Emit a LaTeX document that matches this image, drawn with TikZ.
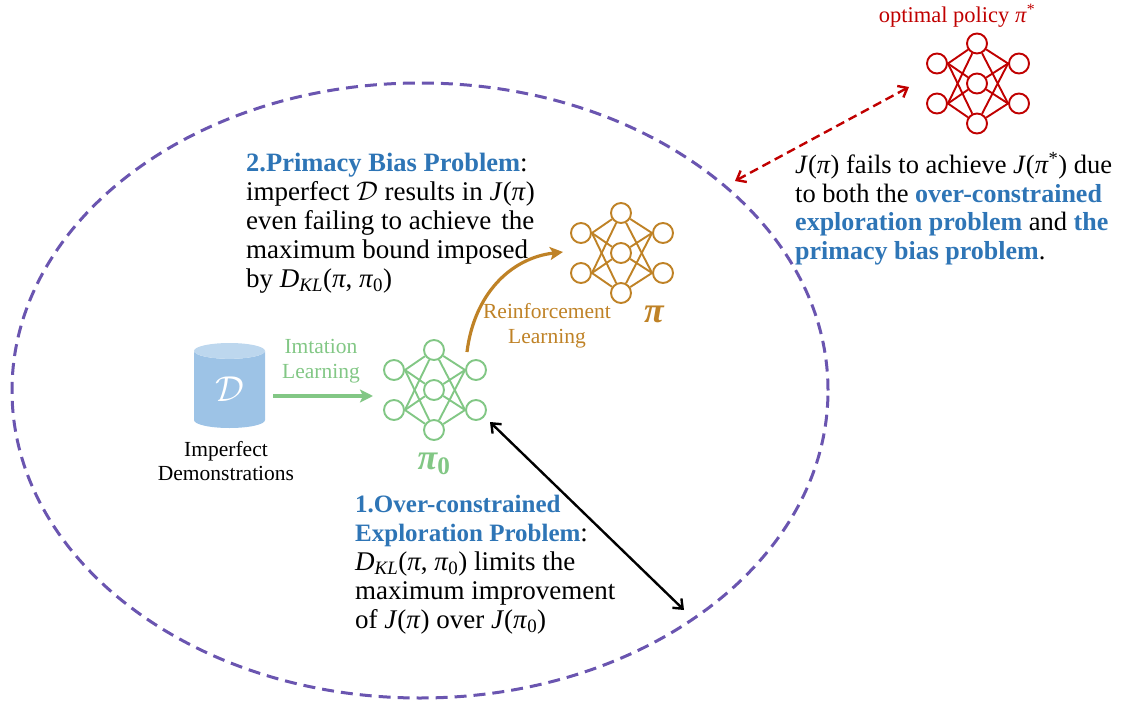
\documentclass[tikz,border=0pt]{standalone}
\usepackage{fix-cm}
\usepackage{fontspec}
\setmainfont{Liberation Serif}
\usetikzlibrary{shapes.geometric,arrows.meta}
\definecolor{nnred}{HTML}{C00000}
\definecolor{nnblue}{HTML}{2E75B6}
\definecolor{nngreen}{HTML}{82C785}
\definecolor{nnbrown}{HTML}{BF8226}
\definecolor{boundpurple}{HTML}{6A55B0}
\definecolor{databody}{HTML}{9DC3E6}
\definecolor{datatop}{HTML}{BDD7EE}
\newcommand{\probname}[2][26]{\textcolor{nnblue}{\fontsize{#1}{29}\selectfont\textbf{#2}}}
\newcommand{\mv}[1]{\textit{#1}}
\newcommand{\Dkl}{\mv{D}\textsubscript{\mv{KL}}(\mv{π}, \mv{π}\textsubscript{0})}
\tikzset{
    neuron/.style={draw, circle, minimum size=20pt, inner sep=0pt, line width=1.9pt},
    netpic/.pic={
        \foreach \n/\x/\y in {a/-40/-20, b/-40/20, c/0/-40, d/0/0, e/0/40, f/42/-20, g/42/20}
            \node[neuron] (-\n) at (\x,\y) {};
        \foreach \s in {a,b} \foreach \t in {c,d,e}
            \draw[line width=1.9pt] (-\s.east) -- (-\t);
        \foreach \t in {c,d,e} \foreach \s in {f,g}
            \draw[line width=1.9pt] (-\t) -- (-\s.west);
    },
    bodytext/.style={align=left, anchor=north west, inner sep=0pt, font=\fontsize{27}{29}\selectfont},
    smalltext/.style={align=center, inner sep=0pt, font=\fontsize{21.5}{24.5}\selectfont},
    polname/.style={inner sep=0pt, font=\fontsize{36}{36}\selectfont\bfseries\itshape},
}
\begin{document}
\begin{tikzpicture}[
        x=1pt, y=-1pt,
        learnarrow/.style={-{Stealth[length=13pt,width=13pt,inset=3pt]}, line width=3.2pt},
        comparearrow/.style={{Straight Barb[length=8pt,width=13pt]}-{Straight Barb[length=8pt,width=13pt]}, line width=2.4pt},
    ]
    \useasboundingbox (0,0) rectangle (1123,711);
    % outer bound
    \node[draw=boundpurple, ellipse, line width=3pt, dash pattern=on 12pt off 7pt, minimum width=816pt, minimum height=615pt, inner sep=0pt] (bound) at (420,390.5) {};
    % networks
    \pic[color=nngreen] (netzero) at (434,390) {netpic};
    \pic[color=nnbrown] (netpi) at (621,253) {netpic};
    \pic[color=nnred] (netopt) at (977,83.5) {netpic};
    % dataset
    \node[cylinder, anchor=shape center, shape border rotate=90, aspect=0.55, draw=none, cylinder uses custom fill, cylinder body fill=databody, cylinder end fill=datatop, minimum width=71pt, minimum height=85pt, inner sep=0pt, text=white, font=\fontsize{36}{36}\selectfont] (dataset) at (229.5,385.5) {$\mathcal{D}$};
    \node[smalltext] (datalabel) at (226,461) {Imperfect\\Demonstrations};
    % labels
    \node[smalltext, text=nngreen] (illabel) at (321,361) {Imtation\\Learning};
    \node[smalltext, text=nnbrown] (rllabel) at (547,325.5) {Reinforcement\\Learning};
    \node[polname, text=nngreen] (pizero) at (434,464) {π\textsubscript{\upshape 0}};
    \node[polname, text=nnbrown] (pione) at (654,314) {π};
    \node[inner sep=0pt, text=nnred, font=\fontsize{22.5}{22.5}\selectfont] (optlabel) at (957,16) {optimal policy \mv{π}\textsuperscript{*}};
    % problem texts
    \node[bodytext] (firstprob) at (355,495) {\probname[25]{1.Over-constrained}\\\probname[25]{Exploration Problem}:\\\Dkl{} limits the\\maximum improvement\\of \mv{J}(\mv{π}) over \mv{J}(\mv{π}\textsubscript{0})};
    \node[bodytext] (secondprob) at (246,152.5) {\probname[26.5]{2.Primacy Bias Problem}:\\imperfect $\mathcal{D}$ results in \mv{J}(\mv{π})\\even failing to achieve\hspace{.12em} the\\maximum bound imposed\\by \Dkl};
    \node[bodytext, font=\fontsize{26.5}{28.5}\selectfont] (fullprob) at (795,152) {\mv{J}(\mv{π}) fails to achieve \mv{J}(\mv{π}\textsuperscript{*}) due\\to both the \probname{over-constrained}\\\probname{exploration problem} and \probname{the}\\\probname{primacy bias problem}.};
    % free ends of the arrows
    \coordinate (ilstart) at (273,396);
    \coordinate (ilend) at (373,396);
    \coordinate (rlstart) at (467,352);
    \coordinate (rlend) at (563,252);
    \coordinate (gapstart) at (490,422);
    \coordinate (gapend) at (684,610);
    \coordinate (optstart) at (735,181);
    \coordinate (optend) at (909,87);
    \draw[learnarrow, nngreen] (ilstart) -- (ilend);
    \draw[learnarrow, nnbrown] (rlstart) .. controls (474,295) and (510,258) .. (rlend);
    \draw[comparearrow, black] (gapstart) -- (gapend);
    \draw[comparearrow, nnred, dash pattern=on 9pt off 5pt] (optstart) -- (optend);
\end{tikzpicture}
\end{document}
